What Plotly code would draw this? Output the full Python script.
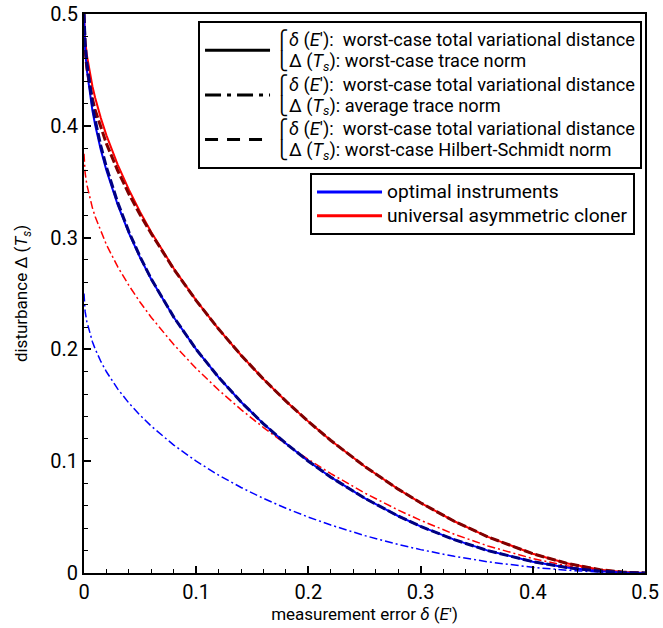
import plotly.graph_objects as go

# measurement error delta(E')
x_err = [0, 0.001, 0.0025, 0.005, 0.0075, 0.01, 0.015, 0.02, 0.03, 0.04, 0.05, 0.06, 0.08, 0.1,
         0.12, 0.14, 0.16, 0.18, 0.2, 0.22, 0.25, 0.28, 0.3, 0.33, 0.36, 0.4, 0.43, 0.46, 0.48, 0.5]

# optimal instruments, worst-case trace norm
opt_worst = [0.5, 0.468, 0.450, 0.4295, 0.4137, 0.4005, 0.3784, 0.360, 0.3294, 0.3040, 0.2821, 0.2625,
             0.2287, 0.200, 0.1750, 0.1530, 0.1334, 0.1158, 0.100, 0.0857, 0.0670, 0.0510, 0.0417,
             0.0298, 0.0200, 0.0101, 0.0049, 0.0016, 0.0004, 0.0]
# optimal instruments, average trace norm
opt_avg = [0.25, 0.234, 0.225, 0.2148, 0.2069, 0.2003, 0.1892, 0.180, 0.1647, 0.1520, 0.1411, 0.1313,
           0.1144, 0.100, 0.0875, 0.0765, 0.0667, 0.0579, 0.050, 0.0429, 0.0335, 0.0255, 0.0209,
           0.0149, 0.0100, 0.0051, 0.0025, 0.0008, 0.0002, 0.0]
# optimal instruments, worst-case Hilbert-Schmidt norm
opt_hs = [0.5, 0.474, 0.457, 0.436, 0.419, 0.405, 0.382, 0.363, 0.3315, 0.3052, 0.2828, 0.2629,
          0.2289, 0.200, 0.1750, 0.1530, 0.1334, 0.1158, 0.100, 0.0857, 0.0670, 0.0510, 0.0417,
          0.0298, 0.0200, 0.0101, 0.0049, 0.0016, 0.0004, 0.0]
# universal asymmetric cloner, worst-case trace norm
clo_worst = [0.5, 0.4772, 0.4635, 0.4477, 0.4354, 0.4248, 0.4069, 0.3915, 0.3653, 0.3429, 0.3229, 0.3048,
             0.2724, 0.2438, 0.2182, 0.1948, 0.1734, 0.1537, 0.1354, 0.1185, 0.0955, 0.0750, 0.0628,
             0.0463, 0.0323, 0.0172, 0.0087, 0.0030, 0.0008, 0.0]
# universal asymmetric cloner, average trace norm
clo_avg = [0.375, 0.3579, 0.3476, 0.3358, 0.3266, 0.3186, 0.3052, 0.2936, 0.2740, 0.2572, 0.2422, 0.2286,
           0.2043, 0.1829, 0.1637, 0.1461, 0.1301, 0.1153, 0.1016, 0.0889, 0.0716, 0.0563, 0.0471,
           0.0347, 0.0242, 0.0129, 0.0065, 0.0023, 0.0006, 0.0]
# universal asymmetric cloner, worst-case Hilbert-Schmidt norm
clo_hs = [0.5, 0.468, 0.452, 0.436, 0.424, 0.414, 0.398, 0.384, 0.360, 0.339, 0.3205, 0.3035,
          0.2718, 0.2436, 0.2182, 0.1948, 0.1734, 0.1537, 0.1354, 0.1185, 0.0955, 0.0750, 0.0628,
          0.0463, 0.0323, 0.0172, 0.0087, 0.0030, 0.0008, 0.0]

legend1_second = ["worst-case trace norm", "average trace norm", "worst-case Hilbert-Schmidt norm"]
legend1_first = "worst-case total variational distance"
legend2_labels = ["optimal instruments", "universal asymmetric cloner"]

FONT = "Roboto"


def big(txt, px):
    return '<span style="font-size:%spx">%s</span>' % (px, txt)


legend1_labels = [
    big("⎧<i>δ</i> (<i>E</i>′):  " + legend1_first, 18.2) + "<br>" +
    big("⎩Δ (<i>T<sub>s</sub></i>): " + sec, 18.2)
    for sec in legend1_second
]

fig = go.Figure()

# dash-dot (average) curves
fig.add_trace(go.Scatter(x=x_err, y=clo_avg, mode="lines", showlegend=False,
                         line=dict(color="#ff0000", width=1.5, dash="8px,3px,2px,3px")))
fig.add_trace(go.Scatter(x=x_err, y=opt_avg, mode="lines", showlegend=False,
                         line=dict(color="#0000ff", width=1.5, dash="8px,3px,2px,3px")))
# solid curves
fig.add_trace(go.Scatter(x=x_err, y=clo_worst, mode="lines", showlegend=False,
                         line=dict(color="#ff0000", width=2)))
fig.add_trace(go.Scatter(x=x_err, y=opt_worst, mode="lines", showlegend=False,
                         line=dict(color="#0000ff", width=2)))
# dashed HS curves
fig.add_trace(go.Scatter(x=x_err, y=clo_hs, mode="lines", showlegend=False,
                         line=dict(color="#800000", width=3, dash="9px,3px")))
fig.add_trace(go.Scatter(x=x_err, y=opt_hs, mode="lines", showlegend=False,
                         line=dict(color="#000080", width=3, dash="9px,3px")))

# legend 1 entries (black line styles)
styles = ["solid", "16px,6px,4px,6px", "13px,9px"]
for lab, ds in zip(legend1_labels, styles):
    fig.add_trace(go.Scatter(x=[None], y=[None], mode="lines", name=lab, legend="legend",
                             line=dict(color="black", width=3, dash=ds)))
# legend 2 entries (colours)
for lab, col in zip(legend2_labels, ["#0000ff", "#ff0000"]):
    fig.add_trace(go.Scatter(x=[None], y=[None], mode="lines", name=big(lab, 19.2), legend="legend2",
                             line=dict(color=col, width=3)))

axis_common = dict(
    showline=True, linecolor="black", linewidth=2, mirror=True,
    ticks="inside", ticklen=7, tickwidth=1.5, tickcolor="black",
    showgrid=False, zeroline=False, automargin=False,
    tickfont=dict(family=FONT, size=20, color="black"),
    minor=dict(ticks="inside", ticklen=4, tickwidth=1.2, tickcolor="black", dtick=0.02, showgrid=False),
)

fig.update_layout(
    width=663, height=628,
    margin=dict(l=84, r=18, t=14, b=55, autoexpand=False),
    paper_bgcolor="white", plot_bgcolor="white",
    font=dict(family=FONT, color="black"),
    xaxis=dict(range=[0, 0.5], dtick=0.1, tick0=0,
               title=dict(text="measurement error <i>δ</i> (<i>E</i>′)", font=dict(family=FONT, size=17), standoff=4),
               **axis_common),
    yaxis=dict(range=[0, 0.5], dtick=0.1, tick0=0,
               title=dict(text="disturbance Δ (<i>T<sub>s</sub></i>)", font=dict(family=FONT, size=17), standoff=18),
               **axis_common),
    legend=dict(x=0.9947, xanchor="right", y=0.9875, yanchor="top",
                bgcolor="white", bordercolor="black", borderwidth=2,
                font=dict(family=FONT, size=16, color="black"), itemwidth=65, tracegroupgap=0),
    legend2=dict(x=0.9822, xanchor="right", y=0.7156, yanchor="top",
                 bgcolor="white", bordercolor="black", borderwidth=2,
                 font=dict(family=FONT, size=16, color="black"), itemwidth=65),
)

fig.write_html("out.html")
